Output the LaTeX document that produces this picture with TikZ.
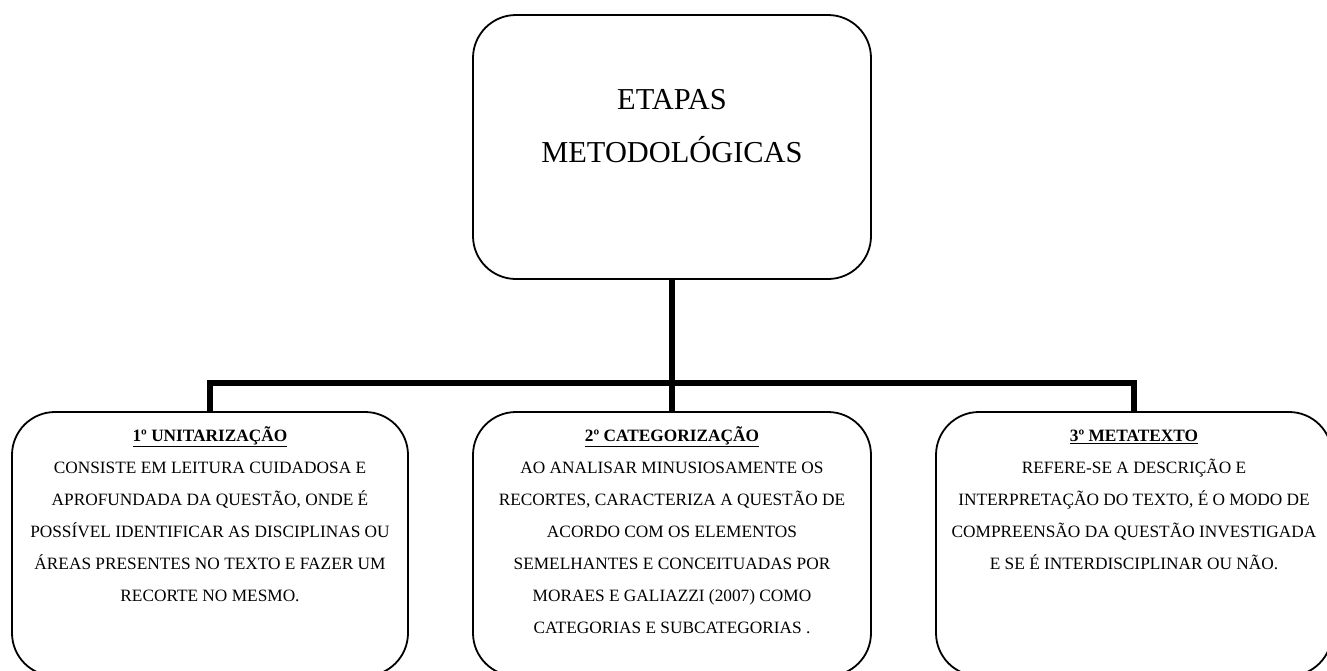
\documentclass[tikz,border=0pt]{standalone}
\usepackage{fontspec}
\setmainfont{Liberation Serif}
\usetikzlibrary{calc}
\newcommand{\etapa}[1]{\strut\underline{\textbf{#1}}}
\tikzset{
	caixa/.style={draw, line width=1.8pt, rounded corners=43pt, minimum width=396pt, minimum height=264pt, inner sep=0pt},
	texto/.style={anchor=north, align=center, inner sep=0pt, font=\fontsize{17.3}{32}\selectfont},
	titulo/.style={anchor=north, align=center, inner sep=0pt, font=\fontsize{30.4}{53}\selectfont},
	ligacao/.style={line width=5.5pt}
}

\begin{document}
\begin{tikzpicture}[x=1pt, y=-1pt]
		%%%%% START %%%%%
		\useasboundingbox (0,0) rectangle (1327,670);
		
		\node[caixa, minimum width=398pt] (etapas) at (672,147) {};
		\node[titulo] (etapas-txt) at ([yshift=-75pt]etapas.north) {ETAPAS\\METODOLÓGICAS};
		
		\node[caixa] (unit) at (210,544) {};
		\node[caixa, minimum width=398pt] (categ) at (672,544) {};
		\node[caixa] (meta) at (1134,544) {};
		
		\node[texto] (unit-txt) at ([yshift=-7.6pt]unit.north) {\etapa{1º UNITARIZAÇÃO}\\CONSISTE EM LEITURA CUIDADOSA E\\APROFUNDADA DA QUESTÃO, ONDE É\\POSSÍVEL IDENTIFICAR AS DISCIPLINAS OU\\ÁREAS PRESENTES NO TEXTO E FAZER UM\\RECORTE NO MESMO.};
		\node[texto] (categ-txt) at ([yshift=-7.6pt]categ.north) {\etapa{2º CATEGORIZAÇÃO}\\AO ANALISAR MINUSIOSAMENTE OS\\RECORTES, CARACTERIZA A QUESTÃO DE\\ACORDO COM OS ELEMENTOS\\SEMELHANTES E CONCEITUADAS POR\\MORAES E GALIAZZI (2007) COMO\\CATEGORIAS E SUBCATEGORIAS .};
		\node[texto] (meta-txt) at ([yshift=-7.6pt]meta.north) {\etapa{3º METATEXTO}\\REFERE-SE A DESCRIÇÃO E\\INTERPRETAÇÃO DO TEXTO, É O MODO DE\\COMPREENSÃO DA QUESTÃO INVESTIGADA\\E SE É INTERDISCIPLINAR OU NÃO.};
		
		\coordinate (barra) at (672,383);
		\draw[ligacao] (etapas.south) -- (categ.north);
		\draw[ligacao] (unit.north) |- (barra) -| (meta.north);
		
		%%%%% END %%%%%
	\end{tikzpicture}
\end{document}
